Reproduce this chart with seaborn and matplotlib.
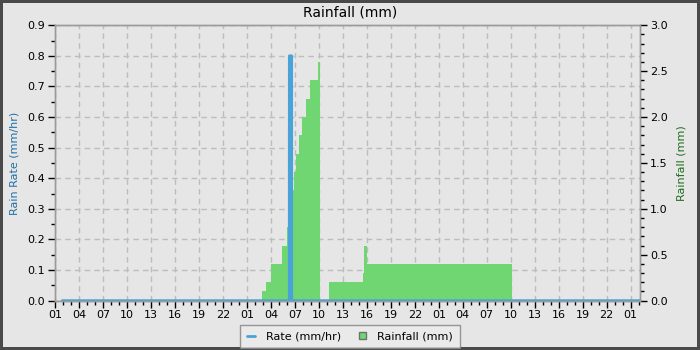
import matplotlib
matplotlib.use("Agg")
import matplotlib.pyplot as plt
import seaborn as sns
from matplotlib.lines import Line2D
from matplotlib.patches import Patch
from matplotlib.ticker import FixedLocator, FixedFormatter, MultipleLocator

# hours counted from 01:00 on the first day
rate_hours = [0.9, 29.3, 29.31, 29.6, 29.61, 73.2]
rate_mmhr = [0.0, 0.0, 0.8, 0.8, 0.0, 0.0]

rain_hours = [25.9, 26.4, 27.0, 28.4, 29.0, 29.25, 29.75, 29.9, 30.1, 30.5,
              30.9, 31.4, 31.9, 32.9, 33.1, 34.25, 38.5, 38.6, 39.0, 57.2]
rain_mm = [0.1, 0.2, 0.4, 0.6, 0.8, 1.0, 1.2, 1.4, 1.6, 1.8,
           2.0, 2.2, 2.4, 2.6, 0.0, 0.2, 0.3, 0.6, 0.4, 0.0]

tick_hours = list(range(0, 73, 3))
tick_labels = ["01", "04", "07", "10", "13", "16", "19", "22"] * 3 + ["01"]

BG = "#e6e6e6"
BLUE = "#4aa3d8"
GREEN = "#6fd672"

sns.set_theme(style="white")
plt.rcParams["font.family"] = ["DejaVu Sans"]
plt.rcParams.update({"text.color": "black", "xtick.color": "black",
                     "ytick.color": "black", "xtick.labelcolor": "black",
                     "ytick.labelcolor": "black"})

fig = plt.figure(figsize=(7, 3.5), dpi=100, facecolor=BG)
fig.patch.set_edgecolor("#4a4a4a")
fig.patch.set_linewidth(3)
ax1 = fig.add_axes([0.0786, 0.141, 0.836, 0.787])
ax1.set_facecolor(BG)
ax2 = ax1.twinx()

# grid + background on ax1, filled rainfall on ax2 (above)
ax1.set_xlim(0, 73.2)
ax1.set_ylim(0, 0.9)
ax2.set_ylim(0, 3.0)

ax1.xaxis.set_major_locator(FixedLocator(tick_hours))
ax1.xaxis.set_major_formatter(FixedFormatter(tick_labels))
ax1.xaxis.set_minor_locator(MultipleLocator(1))
ax1.yaxis.set_major_locator(MultipleLocator(0.1))
ax1.yaxis.set_minor_locator(MultipleLocator(0.05))
ax2.yaxis.set_major_locator(MultipleLocator(0.5))
ax2.yaxis.set_minor_locator(MultipleLocator(0.1))

ax1.grid(True, which="major", color="#bdbdbd", linestyle=(0, (4, 3)), linewidth=1)
ax1.set_axisbelow(True)

ax2.fill_between(rain_hours, rain_mm, step="post", color=GREEN, linewidth=0)

sns.lineplot(x=rate_hours, y=rate_mmhr, ax=ax2, color=BLUE, linewidth=2,
             estimator=None, sort=False, transform=ax1.transData, clip_on=False)
ax2.set_xlim(0, 73.2)
ax2.set_ylim(0, 3.0)

for ax in (ax1, ax2):
    for s in ax.spines.values():
        s.set_color("#9a9a9a")
        s.set_linewidth(1)
    ax.tick_params(which="major", length=5, width=1, color="black",
                   labelcolor="black", labelsize=8, pad=2)
    ax.tick_params(which="minor", length=3, width=1, color="black")
ax1.tick_params(axis="x", which="both", bottom=True)
ax1.tick_params(axis="y", which="both", left=True)
ax2.tick_params(axis="y", which="both", right=True)

ax1.set_ylabel("Rain Rate (mm/hr)", color="#1f6fa8", fontsize=8, labelpad=6)
ax2.set_ylabel("Rainfall (mm)", color="#1f6b1f", fontsize=8, labelpad=6)
fig.text(0.5, 0.965, "Rainfall (mm)", fontsize=10, ha="center", va="center",
         color="black")

handles = [Line2D([], [], color=BLUE, linewidth=2),
           Patch(facecolor=GREEN, edgecolor="#707070")]
leg = fig.legend(handles, ["Rate (mm/hr)", "Rainfall (mm)"], loc="upper center",
                 bbox_to_anchor=(0.5, 0.072), ncol=2, fontsize=8, frameon=True,
                 fancybox=False, handlelength=0.7, handleheight=0.7,
                 handletextpad=1.0, columnspacing=1.6, borderpad=0.6,
                 borderaxespad=0.0)
leg.get_frame().set_facecolor("#ececec")
leg.get_frame().set_edgecolor("#808080")

fig.savefig("out.png", dpi=100, facecolor=BG, edgecolor=fig.get_edgecolor())
